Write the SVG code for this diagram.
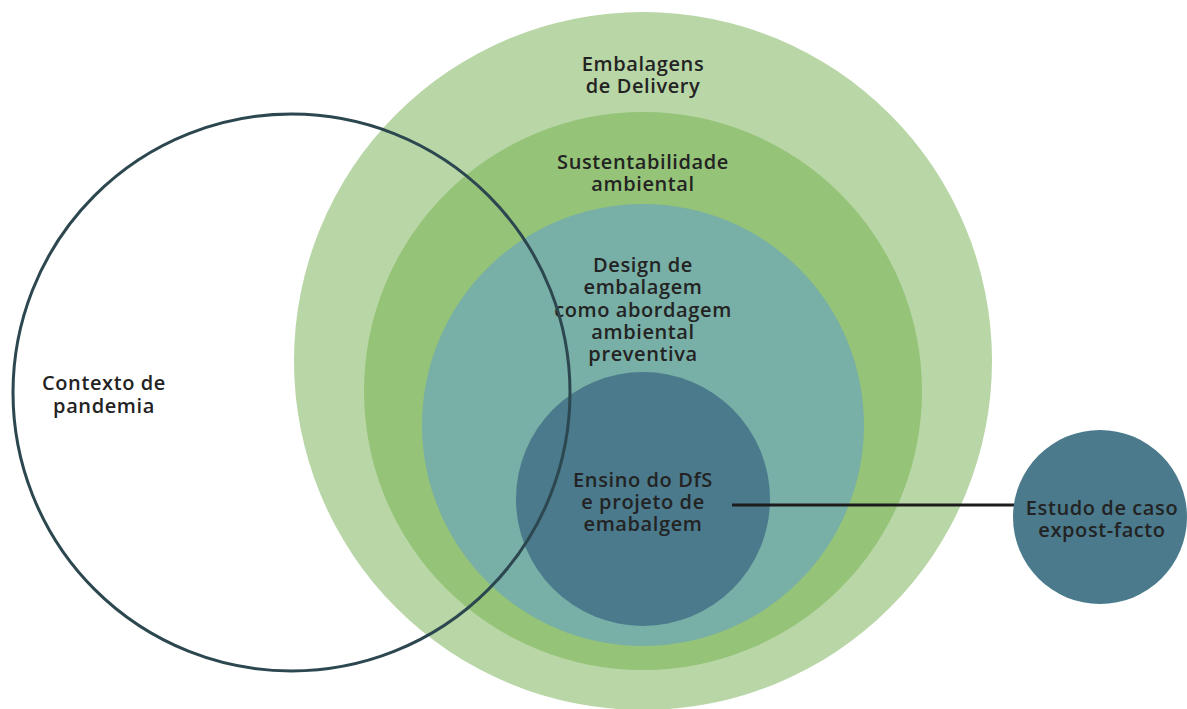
<svg xmlns="http://www.w3.org/2000/svg" width="1187" height="709" viewBox="0 0 1187 709">
  <style>
    .lbl { font-family: "Open Sans", "Liberation Sans", sans-serif; font-weight: 600; font-size: 20px; letter-spacing: 0.6px; fill: #232323; text-anchor: middle; }
  </style>
  <rect width="1187" height="709" fill="#ffffff"/>

  <!-- nested scope circles -->
  <g id="embalagens-delivery">
    <circle cx="643" cy="361" r="349" fill="#b8d6a6"/>
    <text class="lbl" y="71"><tspan x="643">Embalagens</tspan><tspan x="643" dy="22">de Delivery</tspan></text>
  </g>
  <g id="sustentabilidade">
    <circle cx="643" cy="391" r="279" fill="#95c378"/>
    <text class="lbl" y="169"><tspan x="643">Sustentabilidade</tspan><tspan x="643" dy="22">ambiental</tspan></text>
  </g>
  <g id="design-embalagem">
    <circle cx="643" cy="425" r="221" fill="#78afa6"/>
    <text class="lbl" y="272"><tspan x="643">Design de</tspan><tspan x="643" dy="22.3">embalagem</tspan><tspan x="643" dy="22.3">como abordagem</tspan><tspan x="643" dy="22.3">ambiental</tspan><tspan x="643" dy="22.3">preventiva</tspan></text>
  </g>
  <g id="ensino-dfs">
    <circle cx="643" cy="499" r="127" fill="#4a7a8c"/>
    <text class="lbl" y="487"><tspan x="643">Ensino do DfS</tspan><tspan x="643" dy="22">e projeto de</tspan><tspan x="643" dy="22">emabalgem</tspan></text>
  </g>

  <!-- overlapping context ring -->
  <g id="contexto-pandemia">
    <circle cx="291.5" cy="392.5" r="278.5" fill="none" stroke="#2c474f" stroke-width="3"/>
    <text class="lbl" y="390"><tspan x="104">Contexto de</tspan><tspan x="104" dy="23">pandemia</tspan></text>
  </g>

  <!-- connectors -->
  <g id="connectors">
    <line x1="732" y1="505" x2="1015" y2="505" stroke="#1c1c1c" stroke-width="3"/>
  </g>

  <g id="estudo-caso">
    <circle cx="1100" cy="517" r="87" fill="#4a7a8c"/>
    <text class="lbl" y="515"><tspan x="1102">Estudo de caso</tspan><tspan x="1102" dy="22">expost-facto</tspan></text>
  </g>
</svg>
